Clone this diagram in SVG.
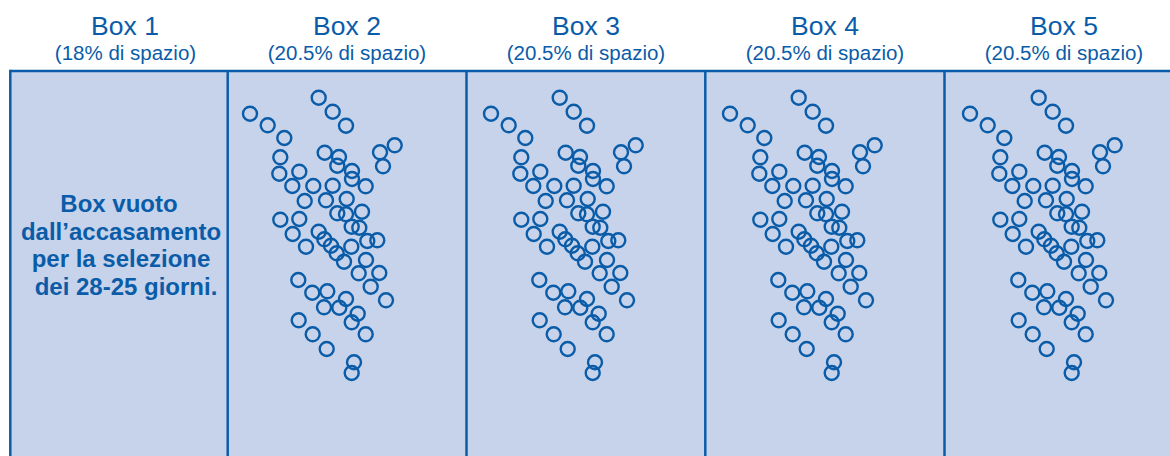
<svg xmlns="http://www.w3.org/2000/svg" xmlns:xlink="http://www.w3.org/1999/xlink" width="1170" height="456" viewBox="0 0 1170 456">
<style>
.t{font-family:"Liberation Sans",Arial,sans-serif;fill:#0b5ca8;text-anchor:middle}
.h{font-size:26.5px}
.s{font-size:20.5px}
.b{font-size:24px;font-weight:bold}
.ln{stroke:#0b5ca8;stroke-width:2.5;fill:none}
.c circle{fill:none;stroke:#0b5ca8;stroke-width:2.4}
</style>
<defs>
<g id="birds" class="c">
<circle cx="1038.7" cy="97.7" r="7"/>
<circle cx="1052.7" cy="111.7" r="7"/>
<circle cx="1066" cy="125.7" r="7"/>
<circle cx="970" cy="113.7" r="7"/>
<circle cx="987.7" cy="125.3" r="7"/>
<circle cx="1004.3" cy="138" r="7"/>
<circle cx="1114.7" cy="145.3" r="7"/>
<circle cx="1100" cy="152.3" r="7"/>
<circle cx="1103" cy="166.3" r="7"/>
<circle cx="1044.7" cy="152.7" r="7"/>
<circle cx="1059" cy="157" r="7"/>
<circle cx="1057.3" cy="165.7" r="7"/>
<circle cx="1072" cy="171" r="7"/>
<circle cx="1072" cy="179" r="7"/>
<circle cx="1085.7" cy="186.3" r="7"/>
<circle cx="1000.3" cy="157.3" r="7"/>
<circle cx="999.3" cy="173.7" r="7"/>
<circle cx="1019.3" cy="171.7" r="7"/>
<circle cx="1012.3" cy="186" r="7"/>
<circle cx="1033.3" cy="186" r="7"/>
<circle cx="1052.7" cy="185.7" r="7"/>
<circle cx="1024.7" cy="201" r="7"/>
<circle cx="1046" cy="200.3" r="7"/>
<circle cx="1066.7" cy="199" r="7"/>
<circle cx="1082" cy="211.7" r="7"/>
<circle cx="1057.3" cy="213.3" r="7"/>
<circle cx="1066" cy="214.3" r="7"/>
<circle cx="1071.7" cy="226.7" r="7"/>
<circle cx="1079.3" cy="227.7" r="7"/>
<circle cx="1000.3" cy="219.7" r="7"/>
<circle cx="1019.3" cy="219" r="7"/>
<circle cx="1012.7" cy="234" r="7"/>
<circle cx="1026" cy="246.7" r="7"/>
<circle cx="1038.7" cy="231.7" r="7"/>
<circle cx="1044.3" cy="239.3" r="7"/>
<circle cx="1051" cy="245.7" r="7"/>
<circle cx="1056.7" cy="253.3" r="7"/>
<circle cx="1064" cy="261.7" r="7"/>
<circle cx="1071.3" cy="246.7" r="7"/>
<circle cx="1087.3" cy="241" r="7"/>
<circle cx="1097.3" cy="240.3" r="7"/>
<circle cx="1086" cy="260" r="7"/>
<circle cx="1078.7" cy="273.3" r="7"/>
<circle cx="1099.3" cy="273" r="7"/>
<circle cx="1090.7" cy="286.7" r="7"/>
<circle cx="1106" cy="300.3" r="7"/>
<circle cx="1018.3" cy="280" r="7"/>
<circle cx="1032.3" cy="292.7" r="7"/>
<circle cx="1047.3" cy="291.3" r="7"/>
<circle cx="1066" cy="299" r="7"/>
<circle cx="1044" cy="307.3" r="7"/>
<circle cx="1059.3" cy="307.7" r="7"/>
<circle cx="1077.7" cy="313.7" r="7"/>
<circle cx="1071.7" cy="322.3" r="7"/>
<circle cx="1018.7" cy="320.3" r="7"/>
<circle cx="1032.7" cy="334.3" r="7"/>
<circle cx="1046.7" cy="349" r="7"/>
<circle cx="1085.7" cy="334.3" r="7"/>
<circle cx="1074" cy="362.3" r="7"/>
<circle cx="1071.7" cy="373" r="7"/>
</g>
</defs>
<rect width="1170" height="456" fill="#ffffff"/>
<rect x="10.3" y="71" width="1180" height="400" fill="#c6d3ea"/>
<g id="frame" class="ln">
<line x1="10.3" y1="71" x2="1170" y2="71"/>
<line x1="10.3" y1="69.8" x2="10.3" y2="456"/>
<line x1="227.7" y1="71" x2="227.7" y2="456"/>
<line x1="466.5" y1="71" x2="466.5" y2="456"/>
<line x1="705.3" y1="71" x2="705.3" y2="456"/>
<line x1="944.5" y1="71" x2="944.5" y2="456"/>
</g>
<g id="box1">
<text class="t h" x="125" y="35">Box 1</text>
<text class="t s" x="125.5" y="60">(18% di spazio)</text>
<text class="t b" x="119" y="211.5">Box vuoto</text>
<text class="t b" x="121" y="239.5">dall’accasamento</text>
<text class="t b" x="121" y="267">per la selezione</text>
<text class="t b" x="126" y="295">dei 28-25 giorni.</text>
</g>
<g id="box2">
<text class="t h" x="347" y="35">Box 2</text>
<text class="t s" x="347" y="60">(20.5% di spazio)</text>
<use xlink:href="#birds" transform="translate(-720,0)"/>
</g>
<g id="box3">
<text class="t h" x="586" y="35">Box 3</text>
<text class="t s" x="586" y="60">(20.5% di spazio)</text>
<use xlink:href="#birds" transform="translate(-479,0)"/>
</g>
<g id="box4">
<text class="t h" x="825" y="35">Box 4</text>
<text class="t s" x="825" y="60">(20.5% di spazio)</text>
<use xlink:href="#birds" transform="translate(-240,0)"/>
</g>
<g id="box5">
<text class="t h" x="1064" y="35">Box 5</text>
<text class="t s" x="1064" y="60">(20.5% di spazio)</text>
<use xlink:href="#birds"/>
</g>
</svg>
